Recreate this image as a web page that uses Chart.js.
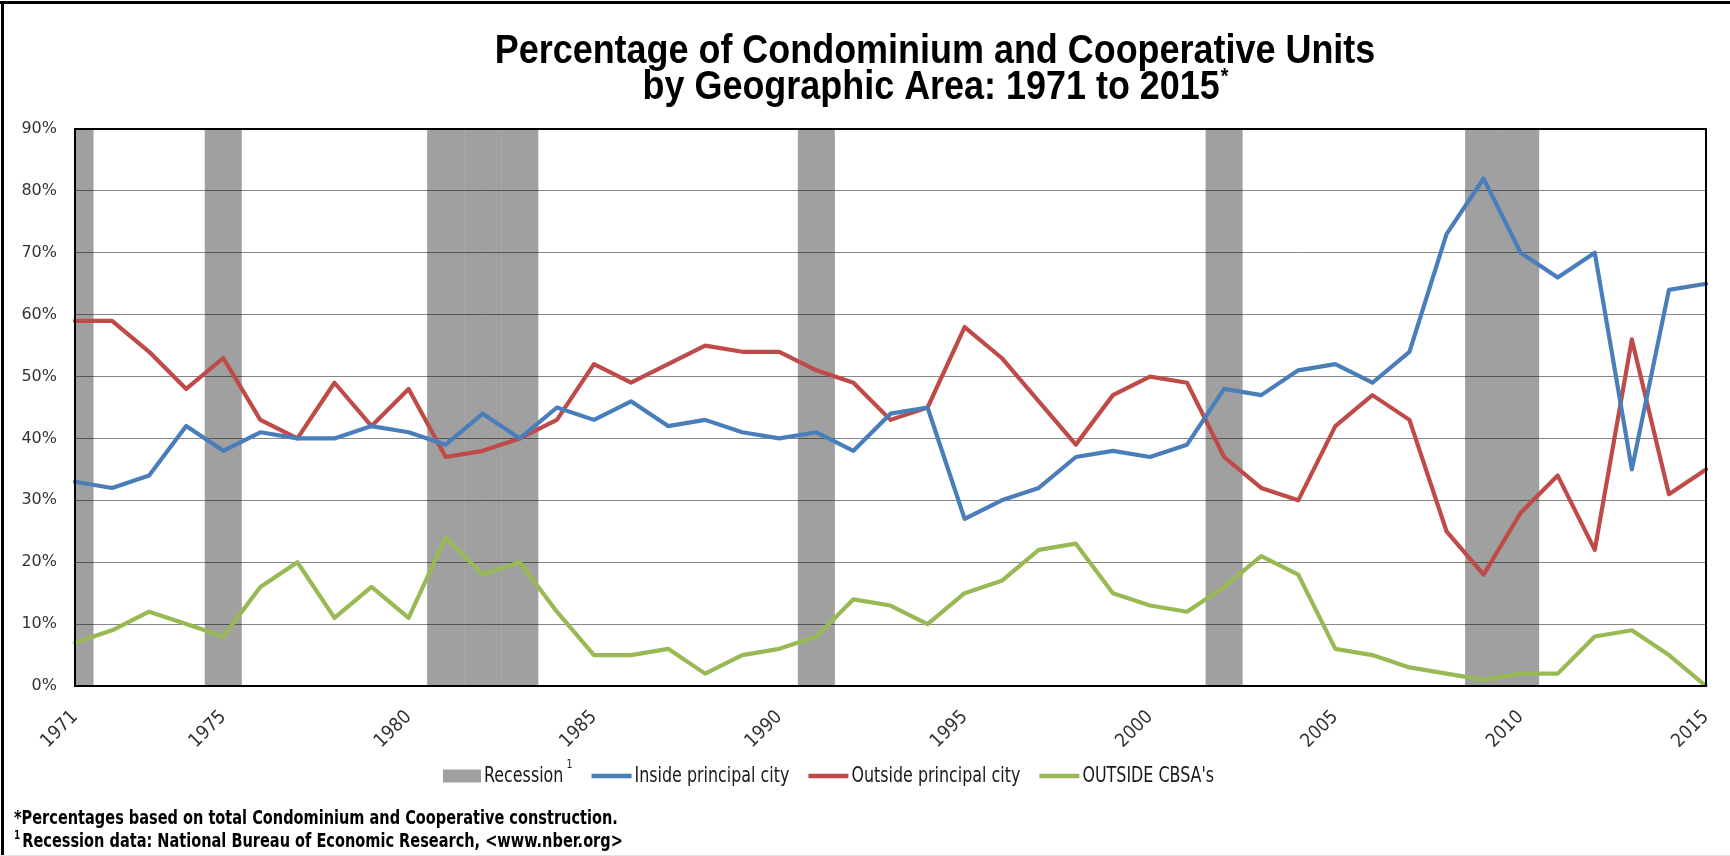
<!DOCTYPE html>
<html><head><meta charset="utf-8">
<script src="https://cdn.jsdelivr.net/npm/chart.js@4.4.1/dist/chart.umd.min.js"></script>
<style>html,body{margin:0;padding:0;background:#fff;}canvas{display:block;}</style>
</head><body>
<canvas id="c" width="1730" height="856"></canvas>
<script>
// ---------- DATA ----------
const years = ['1971','1972','1973','1974','1975','1976','1977','1978','1979','1980',
  '1981','1982','1983','1984','1985','1986','1987','1988','1989','1990',
  '1991','1992','1993','1994','1995','1996','1997','1998','1999','2000',
  '2001','2002','2003','2004','2005','2006','2007','2008','2009','2010',
  '2011','2012','2013','2014','2015'];
const xTickLabels = ['1971','1975','1980','1985','1990','1995','2000','2005','2010','2015'];
const recessionYears = ['1971','1975','1981','1982','1983','1991','2002','2009','2010'];
const recessionLevel = 90;
const insideCity = [33,32,34,42,38,41,40,40,42,41,
  39,44,40,45,43,46,42,43,41,40,
  41,38,44,45,27,30,32,37,38,37,
  39,48,47,51,52,49,54,73,82,70,
  66,70,35,64,65];
const outsideCity = [59,59,54,48,53,43,40,49,42,48,
  37,38,40,43,52,49,52,55,54,54,
  51,49,43,45,58,53,46,39,47,50,
  49,37,32,30,42,47,43,25,18,28,
  34,22,56,31,35];
const outsideCBSA = [7,9,12,10,8,16,20,11,16,11,
  24,18,20,12,5,5,6,2,5,6,
  8,14,13,10,15,17,22,23,15,13,
  12,16,21,18,6,5,3,2,1,2,
  2,8,9,5,0];
const seriesLabels = ['Recession¹','Inside principal city','Outside principal city',"OUTSIDE CBSA's"];
const titleLines = ['Percentage of Condominium and Cooperative Units','by Geographic Area: 1971 to 2015'];
const footnotes = ['*Percentages based on total Condominium and Cooperative construction.',
  'Recession data: National Bureau of Economic Research, <www.nber.org>'];

// ---------- STYLE ----------
// translucent band so the gridlines show through darker, as in the original
const COLORS = {rec:'rgba(0,0,0,0.373)', grid:'#878787', blue:'#4A7EBB', red:'#BE4B48', green:'#98B954'};
const probe = document.createElement('canvas').getContext('2d');
function hasFont(f){
  probe.font='40px monospace'; const a=probe.measureText('abcdefghijklmWWiil1234').width;
  probe.font='40px "'+f+'", monospace'; const b=probe.measureText('abcdefghijklmWWiil1234').width;
  return a!==b;
}
const NARROW_NAME = hasFont('Liberation Sans Narrow') ? 'Liberation Sans Narrow' :
  (hasFont('DejaVu Sans Condensed') ? 'DejaVu Sans Condensed' : 'Liberation Sans');
const NARROW = '"'+NARROW_NAME+'"';
const ARIAL = '"Liberation Sans", Arial, sans-serif';
function fitSize(text, weight, family, target){
  probe.font = weight+' 100px '+family; return 100*target/probe.measureText(text).width;
}

const recessionData = years.map(y => recessionYears.includes(y) ? recessionLevel : null);

const decorPlugin = {
  id:'decor',
  beforeDraw(chart){
    const ctx=chart.ctx; ctx.save(); ctx.fillStyle='#fff'; ctx.fillRect(0,0,chart.width,chart.height); ctx.restore();
  },
  afterDatasetsDraw(chart){
    const ctx=chart.ctx, a=chart.chartArea;
    ctx.save();
    ctx.strokeStyle='#000'; ctx.lineWidth=2;
    ctx.strokeRect(a.left, a.top, a.right-a.left, a.bottom-a.top);
    ctx.restore();
  },
  afterDraw(chart){
    const ctx=chart.ctx;
    ctx.save();
    // outer border
    ctx.fillStyle='#000';
    ctx.fillRect(0,1,chart.width,3);
    ctx.fillRect(1,1,3,chart.height);
    ctx.fillStyle='#e3e3e3'; ctx.fillRect(0,chart.height-1,chart.width,1);
    // title
    const sy=1.15;
    const tSize = fitSize(titleLines[0],'bold',ARIAL,881);
    ctx.fillStyle='#000'; ctx.textBaseline='alphabetic';
    ctx.font='bold '+tSize+'px '+ARIAL;
    const cx=935;
    ctx.save(); ctx.translate(cx,63); ctx.scale(1,sy); ctx.textAlign='center'; ctx.fillText(titleLines[0],0,0); ctx.restore();
    const w2=ctx.measureText(titleLines[1]).width;
    ctx.font='bold '+(tSize*0.55)+'px '+ARIAL;
    const wa=ctx.measureText('*').width;
    const x2=cx-(w2+wa)/2;
    ctx.font='bold '+tSize+'px '+ARIAL;
    ctx.save(); ctx.translate(x2,99); ctx.scale(1,sy); ctx.textAlign='left'; ctx.fillText(titleLines[1],0,0); ctx.restore();
    ctx.font='bold '+(tSize*0.55)+'px '+ARIAL;
    ctx.save(); ctx.translate(x2+w2+1,83); ctx.scale(1,sy); ctx.textAlign='left'; ctx.fillText('*',0,0); ctx.restore();

    // legend
    const lSize = fitSize('Inside principal city','normal',NARROW,155);
    let x=443; const ly=776;
    chart.data.datasets.forEach((ds)=>{
      const isBar = ds.type==='bar';
      if(isBar){ ctx.fillStyle=ds.backgroundColor; ctx.fillRect(x, ly-6.5, 38, 13); x+=38; }
      else { ctx.strokeStyle=ds.borderColor; ctx.lineWidth=4.5; ctx.lineCap='butt';
        ctx.beginPath(); ctx.moveTo(x,ly); ctx.lineTo(x+40,ly); ctx.stroke(); x+=40; }
      x+=3;
      let label=ds.label, sup='';
      if(label.endsWith('¹')){ label=label.slice(0,-1); sup='1'; }
      ctx.fillStyle='#1a1a1a'; ctx.font=lSize+'px '+NARROW; ctx.textAlign='left';
      ctx.save(); ctx.translate(x, ly+lSize*0.36); ctx.scale(1,sy); ctx.fillText(label,0,0); ctx.restore();
      x+=ctx.measureText(label).width;
      if(sup){ ctx.font=(lSize*0.6)+'px '+NARROW; x+=3;
        ctx.save(); ctx.translate(x, ly-8); ctx.scale(1,sy); ctx.fillText(sup,0,0); ctx.restore();
        x+=ctx.measureText(sup).width; }
      x+=19;
    });

    // footnotes
    const fSize = fitSize(footnotes[0],'bold',NARROW,604);
    ctx.fillStyle='#000'; ctx.textAlign='left';
    ctx.font='bold '+fSize+'px '+NARROW;
    ctx.save(); ctx.translate(14,824); ctx.scale(1,sy); ctx.fillText(footnotes[0],0,0); ctx.restore();
    ctx.font='bold '+(fSize*0.62)+'px '+NARROW;
    ctx.save(); ctx.translate(14,839); ctx.scale(1,sy); ctx.fillText('1',0,0); ctx.restore();
    const ws=ctx.measureText('1').width+2;
    ctx.font='bold '+fSize+'px '+NARROW;
    ctx.save(); ctx.translate(14+ws,847); ctx.scale(1,sy); ctx.fillText(footnotes[1],0,0); ctx.restore();
    ctx.restore();
  }
};

const lineStyle = {borderWidth:4.2, pointRadius:0, pointHoverRadius:0, tension:0,
  borderJoinStyle:'round', borderCapStyle:'round', fill:false};

new Chart(document.getElementById('c'), {
  type:'line',
  data:{
    labels: years,
    datasets:[
      {type:'bar', label:seriesLabels[0], data:recessionData, backgroundColor:COLORS.rec,
       borderWidth:0, barPercentage:1, categoryPercentage:1, inflateAmount:0, clip:0, order:3},
      Object.assign({label:seriesLabels[1], data:insideCity, borderColor:COLORS.blue, order:0}, lineStyle),
      Object.assign({label:seriesLabels[2], data:outsideCity, borderColor:COLORS.red, order:1}, lineStyle),
      Object.assign({label:seriesLabels[3], data:outsideCBSA, borderColor:COLORS.green, order:2}, lineStyle)
    ]
  },
  options:{
    responsive:false, animation:false, devicePixelRatio:1,
    layout:{padding:{top:129,right:24,bottom:0,left:0}},
    plugins:{legend:{display:false}, title:{display:false}, tooltip:{enabled:false}},
    scales:{
      x:{type:'category', offset:false,
         grid:{display:false, offset:false, drawTicks:false},
         border:{display:true,color:'#000',width:2},
         ticks:{autoSkip:false, minRotation:45, maxRotation:45, padding:20,
           color:'#333', font:{family:NARROW_NAME, size:19},
           callback:function(v){ const l=this.getLabelForValue(v); return xTickLabels.includes(l)?l:''; }},
         afterFit(s){ s.height=170; s.paddingLeft=0; s.paddingRight=0; }},
      y:{min:0, max:90,
         grid:{color:COLORS.grid, lineWidth:1, drawTicks:false},
         border:{display:true,color:'#000',width:2},
         ticks:{stepSize:10, padding:18, color:'#333',
           font:{family:'DejaVu Sans', size:16},
           callback:v=>v+'%'},
         afterFit(s){ s.width=75; s.paddingTop=0; s.paddingBottom=0; }}
    }
  },
  plugins:[decorPlugin]
});
</script>
</body></html>
